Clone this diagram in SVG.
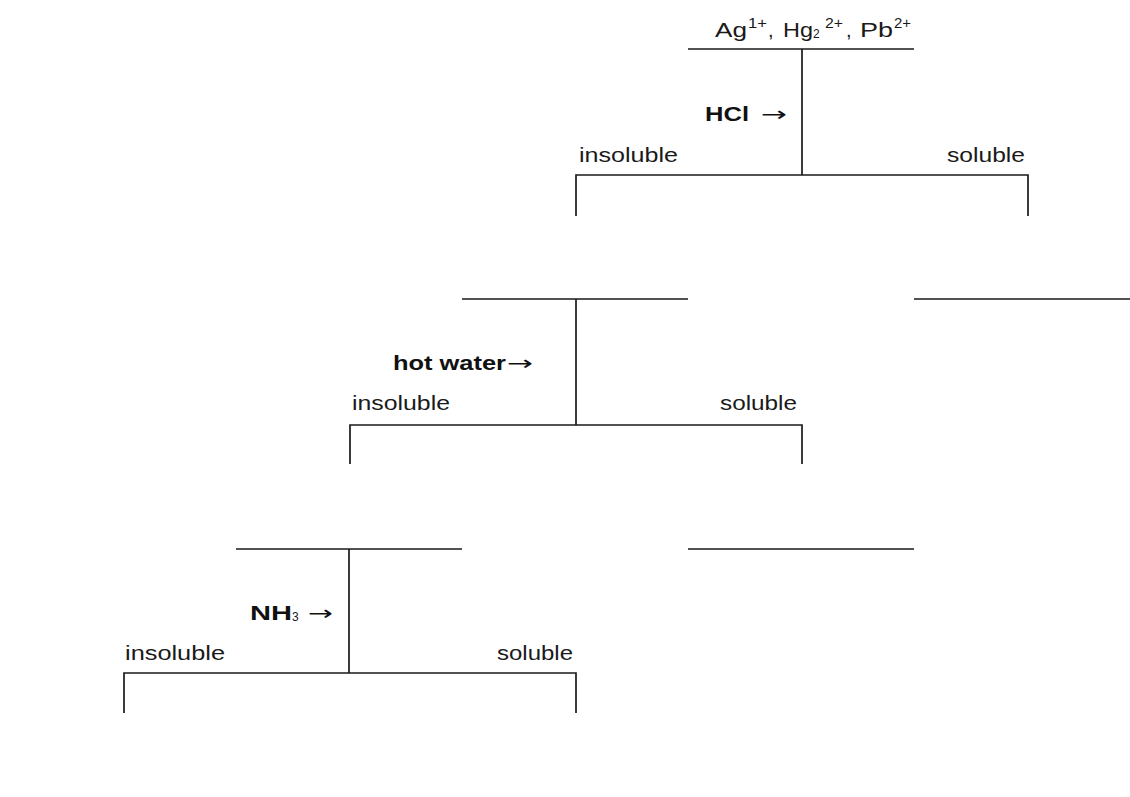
<svg xmlns="http://www.w3.org/2000/svg" width="1130" height="797" viewBox="0 0 1130 797">
<style>
.ln{stroke:#1a1a1a;stroke-width:1.7;fill:none}
.t{font-family:"Liberation Sans","DejaVu Sans",sans-serif;font-size:20px;fill:#1a1a1a}
.b{font-family:"Liberation Sans","DejaVu Sans",sans-serif;font-size:20px;font-weight:bold;fill:#111}
.ar{font-family:"DejaVu Sans",sans-serif;font-size:20px;fill:#111}
.sup{font-size:14px}
.sub{font-size:12px}
</style>
<rect width="1130" height="797" fill="#ffffff"/>
<g id="connectors">
<path class="ln" d="M688 49H914M802 49V175M576 216V175H1028V216"/>
<path class="ln" d="M462 299H688M914 299H1130M576 299V425M350 464V425H802V464"/>
<path class="ln" d="M236 549H462M688 549H914M349 549V673M124 713V673H576V713"/>
</g>
<g id="start">
<text class="t" x="715" y="37" textLength="32" lengthAdjust="spacingAndGlyphs">Ag</text>
<text class="t sup" x="748" y="28" textLength="19" lengthAdjust="spacingAndGlyphs">1+</text>
<text class="t" x="768" y="37">,</text>
<text class="t" x="783" y="37" textLength="30" lengthAdjust="spacingAndGlyphs">Hg</text>
<text class="t sub" x="813" y="38">2</text>
<text class="t sup" x="825" y="28" textLength="18" lengthAdjust="spacingAndGlyphs">2+</text>
<text class="t" x="846" y="37">,</text>
<text class="t" x="860" y="37" textLength="33" lengthAdjust="spacingAndGlyphs">Pb</text>
<text class="t sup" x="894" y="28" textLength="17" lengthAdjust="spacingAndGlyphs">2+</text>
</g>
<g id="step1">
<text class="b" x="705" y="121" textLength="44" lengthAdjust="spacingAndGlyphs">HCl</text>
<text class="ar" x="761" y="121" textLength="26" lengthAdjust="spacingAndGlyphs">→</text>
<text class="t" x="579" y="162" textLength="99" lengthAdjust="spacingAndGlyphs">insoluble</text>
<text class="t" x="947" y="162" textLength="78" lengthAdjust="spacingAndGlyphs">soluble</text>
</g>
<g id="step2">
<text class="b" x="393" y="370" textLength="113" lengthAdjust="spacingAndGlyphs">hot water</text>
<text class="ar" x="507" y="370" textLength="26" lengthAdjust="spacingAndGlyphs">→</text>
<text class="t" x="352" y="410" textLength="98" lengthAdjust="spacingAndGlyphs">insoluble</text>
<text class="t" x="720" y="410" textLength="77" lengthAdjust="spacingAndGlyphs">soluble</text>
</g>
<g id="step3">
<text class="b" x="250" y="620" textLength="42" lengthAdjust="spacingAndGlyphs">NH</text>
<text class="t sub" x="292" y="621">3</text>
<text class="ar" x="308" y="620" textLength="25" lengthAdjust="spacingAndGlyphs">→</text>
<text class="t" x="125" y="660" textLength="100" lengthAdjust="spacingAndGlyphs">insoluble</text>
<text class="t" x="497" y="660" textLength="76" lengthAdjust="spacingAndGlyphs">soluble</text>
</g>
</svg>
